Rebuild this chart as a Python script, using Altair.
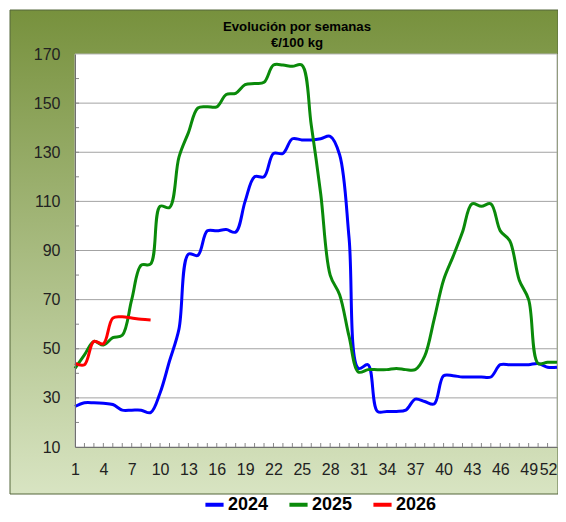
import altair as alt
import pandas as pd

weeks = list(range(1, 53))
v2024 = [26.5, 28, 28, 27.8, 27.3, 25, 25, 25, 24, 32, 45, 58, 88.5, 88, 98, 98, 98.5, 97.5, 110, 120,
         120, 129.5, 129.5, 135.5, 135, 135, 135.5, 136.5, 129, 95, 42, 43.5, 24.5, 24.5, 24.5, 25, 29.5, 28.5, 27.5, 39,
         39, 38.5, 38.5, 38.5, 38.5, 43.5, 43.5, 43.5, 43.5, 44, 42.5, 42.5]
v2025 = [42, 47.5, 53, 51.5, 54.5, 55.5, 70, 84, 84.5, 108, 107.5, 128, 138, 148, 148.5, 148.5, 153.5, 154, 157.5, 158,
         158.5, 165.5, 165.5, 165, 165.5, 141, 113, 80, 72, 55, 40.5, 41.5, 41.5, 41.5, 42, 41.5, 41.5, 47, 62, 78,
         87.5, 97.5, 109, 108, 109, 98, 94, 78, 70, 44, 44.5, 44.5]
weeks_2026 = list(range(1, 10))
v2026 = [44, 43.5, 53, 52, 62.5, 63, 62.5, 62, 61.7]

years = ["2024", "2025", "2026"]
colors = ["#0000ff", "#0a8a0a", "#ff0000"]
y_labels = list(range(10, 171, 20))
y_grid = list(range(30, 151, 20))
y_minor = list(range(20, 170, 10))
x_labels = list(range(1, 53, 3))
x_minor = list(range(2, 52))
title_lines = ["Evolución por semanas", "€/100 kg"]

W, H = 482, 393
FONT = "Liberation Sans"

rows = []
for w, v in zip(weeks, v2024):
    rows.append({"week": w, "value": v, "year": "2024"})
for w, v in zip(weeks, v2025):
    rows.append({"week": w, "value": v, "year": "2025"})
for w, v in zip(weeks_2026, v2026):
    rows.append({"week": w, "value": v, "year": "2026"})
df = pd.DataFrame(rows)

xs = alt.Scale(domain=[1, 52], nice=False, zero=False)
ys = alt.Scale(domain=[10, 170], nice=False, zero=False)

xaxis = alt.Axis(values=x_labels, title=None, grid=False, ticks=False, domain=True,
                 domainColor="#707070", labelFont=FONT, labelFontSize=16, labelColor="#222222",
                 labelPadding=14, labelFlush=False, labelOverlap=False, zindex=1,
                 labelAlign={"condition": {"test": "datum.value >= 52", "value": "right"}, "value": "center"})
yaxis = alt.Axis(values=y_labels, title=None, grid=False, ticks=False, domain=True,
                 domainColor="#707070", labelFont=FONT, labelFontSize=16, labelColor="#222222",
                 labelPadding=15, zindex=1)

one = pd.DataFrame({"a": [0]})

bg = alt.Chart(one).mark_rect(
    fill=alt.LinearGradient(
        gradient="linear",
        stops=[alt.GradientStop(color="#77913d", offset=0),
               alt.GradientStop(color="#d8e4c2", offset=1)],
        x1=0, x2=0, y1=0, y2=1),
    stroke="#55663a", strokeWidth=1
).encode(x=alt.value(-65), x2=alt.value(W + 1), y=alt.value(-44), y2=alt.value(H + 47))

plot_bg = alt.Chart(one).mark_rect(fill="white", stroke="#b5b5b5", strokeWidth=1).encode(
    x=alt.value(0), x2=alt.value(W), y=alt.value(0), y2=alt.value(H))

t1 = alt.Chart(one).mark_text(text=title_lines[0], font=FONT, fontSize=13.2, fontWeight="bold",
                              color="black", baseline="middle", align="center").encode(
    x=alt.value(222), y=alt.value(-27))
t2 = alt.Chart(one).mark_text(text=title_lines[1], font=FONT, fontSize=13.2, fontWeight="bold",
                              color="black", baseline="middle", align="center").encode(
    x=alt.value(222), y=alt.value(-11))

grid = alt.Chart(pd.DataFrame({"g": y_grid})).mark_rule(color="#a3a3a3", strokeWidth=1).encode(
    y=alt.Y("g:Q", scale=ys, axis=yaxis), x=alt.value(0), x2=alt.value(W))

yticks = alt.Chart(pd.DataFrame({"t": y_minor})).mark_rule(color="#888888", strokeWidth=1).encode(
    y=alt.Y("t:Q", scale=ys, axis=yaxis), x=alt.value(0), x2=alt.value(4))

xticks = alt.Chart(pd.DataFrame({"t": x_minor})).mark_rule(color="#888888", strokeWidth=1).encode(
    x=alt.X("t:Q", scale=xs, axis=xaxis), y=alt.value(H), y2=alt.value(H - 4))

lines = alt.Chart(df).mark_line(interpolate="catmull-rom", strokeWidth=3).encode(
    x=alt.X("week:Q", scale=xs, axis=xaxis),
    y=alt.Y("value:Q", scale=ys, axis=yaxis),
    color=alt.Color("year:N", scale=alt.Scale(domain=years, range=colors),
                    legend=alt.Legend(orient="none", legendX=128, legendY=439, direction="horizontal",
                                      title=None, symbolType="stroke", symbolStrokeWidth=4, symbolSize=330,
                                      labelFont=FONT, labelFontSize=18, labelFontWeight="bold",
                                      labelColor="black", labelOffset=2, columnPadding=12)),
    detail="year:N"
)

chart = alt.layer(bg, plot_bg, t1, t2, grid, yticks, xticks, lines).properties(
    width=W, height=H,
    padding={"left": 67, "top": 46, "right": 1, "bottom": 67},
    autosize="none"
).configure_view(stroke=None)

chart.save("out.html", embed_options={"renderer": "svg", "actions": False})
